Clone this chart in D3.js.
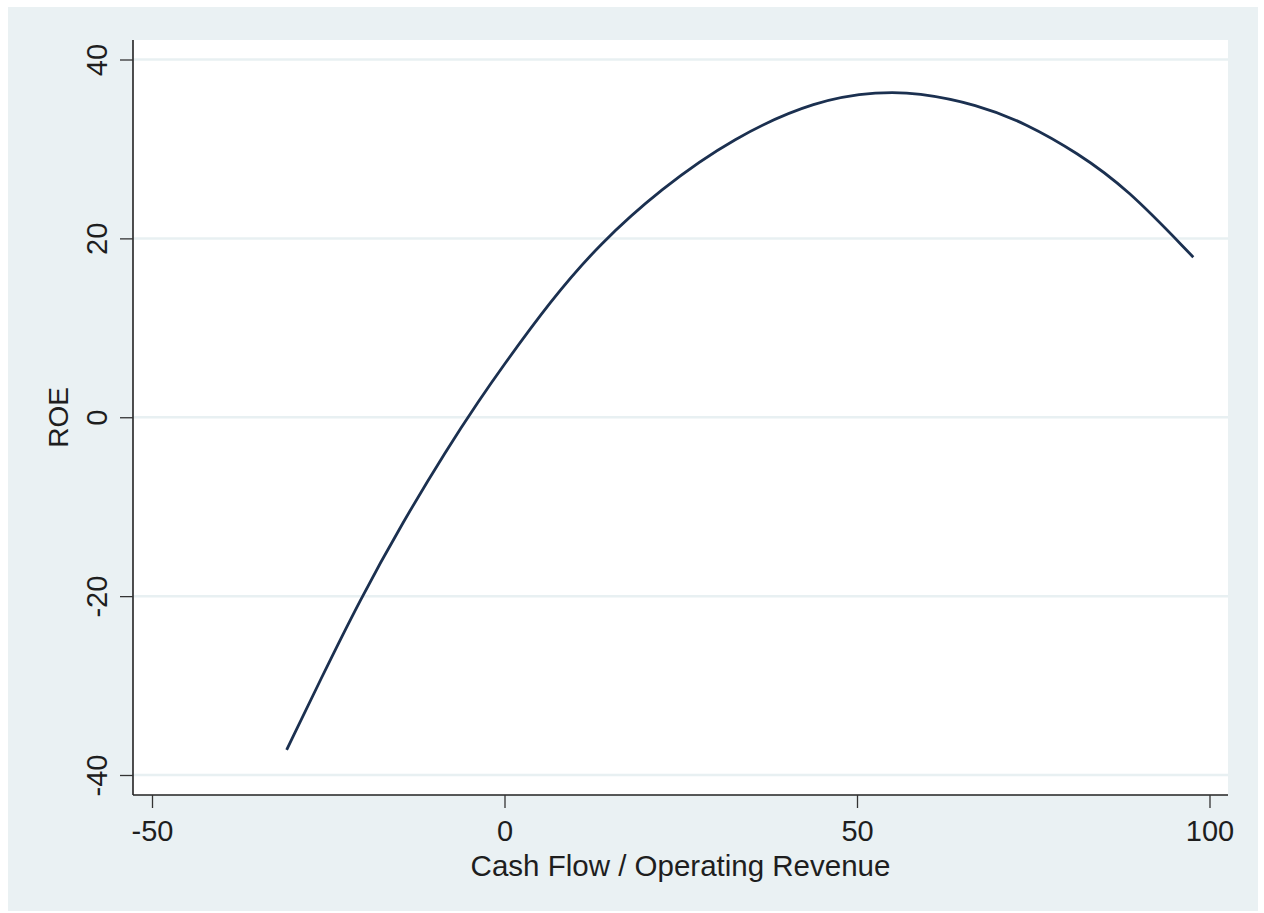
<!DOCTYPE html>
<html>
<head>
<meta charset="utf-8">
<script src="https://cdn.jsdelivr.net/npm/d3@7"></script>
<style>
  html, body { margin: 0; padding: 0; background: #ffffff; }
  svg { display: block; }
  text { font-family: "Liberation Sans", Arial, sans-serif; fill: #1e1e1e; }
</style>
</head>
<body>
<svg id="chart" width="1264" height="913"></svg>
<script>
// Fitted ROE against cash flow / operating revenue
const cashFlowRatio = [-30.9, -26.2, -20.5, -14.4, -8.2, -3.5, -0.6, 6.5, 13.5, 22.1, 32.5, 44.3, 53.2, 58.5, 67.0, 74.1, 81.2, 88.3, 97.7];
const roeFitted     = [-37.2, -29.5, -20.4, -11.7, -3.6, 2.0, 5.3, 13.0, 19.4, 25.5, 31.3, 35.5, 36.4, 36.3, 35.0, 32.8, 29.6, 25.6, 17.9];

const xTicks = [-50, 0, 50, 100];
const yTicks = [-40, -20, 0, 20, 40];
const xTitle = "Cash Flow / Operating Revenue";
const yTitle = "ROE";

const plot = { left: 133, right: 1228, top: 40, bottom: 795 };
const fmt = d => String(d);   // plain hyphen for negatives

const svg = d3.select("#chart");

// outer graph region
svg.append("rect")
  .attr("x", 8).attr("y", 7)
  .attr("width", 1250).attr("height", 904)
  .attr("fill", "#eaf1f3");

// plot region
svg.append("rect")
  .attr("x", plot.left).attr("y", plot.top)
  .attr("width", plot.right - plot.left).attr("height", plot.bottom - plot.top)
  .attr("fill", "#ffffff");

const x = d3.scaleLinear().domain([-50, 50]).range([152, 857]);
const y = d3.scaleLinear().domain([-40, 40]).range([775, 59.5]);

// horizontal grid lines
svg.append("g")
  .selectAll("line")
  .data(yTicks)
  .join("line")
  .attr("x1", plot.left).attr("x2", plot.right)
  .attr("y1", d => y(d)).attr("y2", d => y(d))
  .attr("stroke", "#e8f0f2")
  .attr("stroke-width", 2.5);

// fitted curve
const line = d3.line()
  .x((d, i) => x(cashFlowRatio[i]))
  .y(d => y(d))
  .curve(d3.curveBasis);

svg.append("path")
  .datum(roeFitted)
  .attr("d", line)
  .attr("fill", "none")
  .attr("stroke", "#1b3050")
  .attr("stroke-width", 2.8)
  .attr("stroke-linejoin", "round");

// x axis
const xAxis = svg.append("g")
  .attr("transform", `translate(0,${plot.bottom})`)
  .call(d3.axisBottom(x).tickValues(xTicks).tickSize(13).tickFormat(fmt));
xAxis.select(".domain").attr("d", `M${plot.left},0H${plot.right}`).attr("stroke", "#222").attr("stroke-width", 1.6);
xAxis.selectAll(".tick line").attr("stroke", "#333").attr("stroke-width", 1.3);
xAxis.selectAll(".tick text")
  .attr("font-size", 29)
  .attr("font-family", "Liberation Sans, Arial, sans-serif")
  .attr("fill", "#1e1e1e")
  .attr("y", 46).attr("dy", null);

// y axis
const yAxis = svg.append("g")
  .attr("transform", `translate(${plot.left},0)`)
  .call(d3.axisLeft(y).tickValues(yTicks).tickSize(13).tickFormat(fmt));
yAxis.select(".domain").attr("d", `M0,${plot.top}V${plot.bottom}`).attr("stroke", "#222").attr("stroke-width", 1.6);
yAxis.selectAll(".tick line").attr("stroke", "#333").attr("stroke-width", 1.3);
yAxis.selectAll(".tick text")
  .attr("font-size", 29)
  .attr("font-family", "Liberation Sans, Arial, sans-serif")
  .attr("fill", "#1e1e1e")
  .attr("x", null).attr("dy", null)
  .attr("text-anchor", "middle")
  .attr("transform", "translate(-26,0) rotate(-90)");

// axis titles
svg.append("text")
  .attr("x", (plot.left + plot.right) / 2)
  .attr("y", 876)
  .attr("text-anchor", "middle")
  .attr("font-size", 29.5)
  .text(xTitle);

svg.append("text")
  .attr("transform", `translate(68,${(plot.top + plot.bottom) / 2}) rotate(-90)`)
  .attr("text-anchor", "middle")
  .attr("font-size", 28)
  .text(yTitle);
</script>
</body>
</html>
